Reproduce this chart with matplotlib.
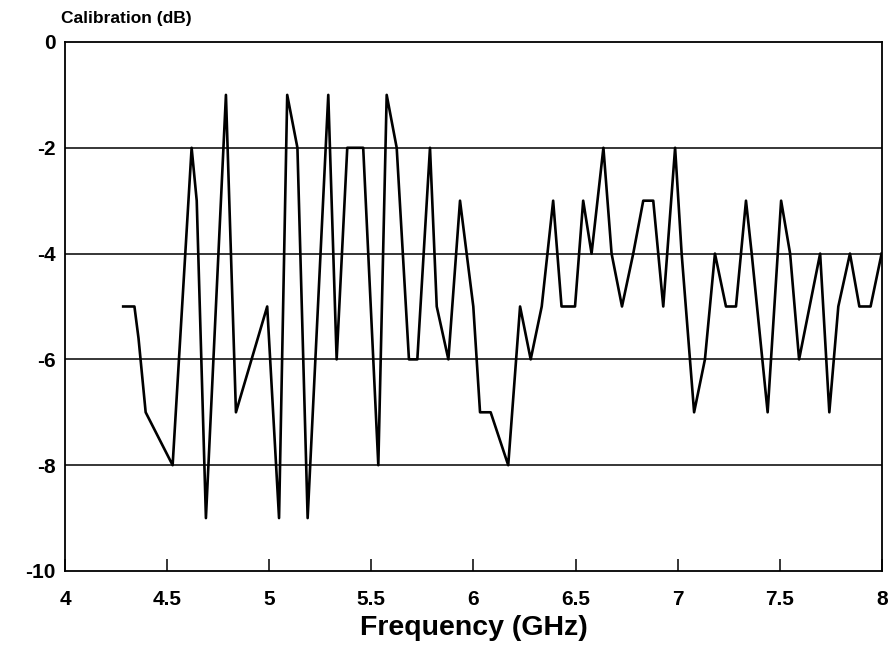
"""Calibration vs frequency plot, scanned-report style."""

import matplotlib

matplotlib.use("Agg")
import matplotlib.pyplot as plt

# Calibration readings (GHz, dB).
freq_ghz = [4.285, 4.34, 4.36, 4.395, 4.527, 4.62, 4.645, 4.69, 4.788, 4.837,
            4.99, 5.048, 5.088, 5.138, 5.188, 5.289, 5.33, 5.382, 5.46, 5.534,
            5.575, 5.624, 5.684, 5.725, 5.787, 5.82, 5.877, 5.934, 5.999, 6.032,
            6.084, 6.17, 6.228, 6.28, 6.334, 6.39, 6.431, 6.497, 6.537, 6.578,
            6.636, 6.676, 6.727, 6.782, 6.831, 6.88, 6.929, 6.987, 7.019, 7.08,
            7.133, 7.182, 7.236, 7.285, 7.334, 7.362, 7.44, 7.506, 7.55, 7.594,
            7.697, 7.742, 7.786, 7.843, 7.889, 7.944, 7.998]
cal_db = [-5, -5, -5.6, -7, -8, -2, -3, -9, -1, -7,
          -5, -9, -1, -2, -9, -1, -6, -2, -2, -8,
          -1, -2, -6, -6, -2, -5, -6, -3, -5, -7,
          -7, -8, -5, -6, -5, -3, -5, -5, -3, -4,
          -2, -4, -5, -4, -3, -3, -5, -2, -4, -7,
          -6, -4, -5, -5, -3, -4, -7, -3, -4, -6,
          -4, -7, -5, -4, -5, -5, -4]

x_ticks = [4, 4.5, 5, 5.5, 6, 6.5, 7, 7.5, 8]
x_labels = ["4", "4.5", "5", "5.5", "6", "6.5", "7", "7.5", "8"]
y_ticks = [0, -2, -4, -6, -8, -10]
y_labels = ["0", "-2", "-4", "-6", "-8", "-10"]

plt.rcParams["font.family"] = ["Liberation Sans", "DejaVu Sans"]

fig = plt.figure(figsize=(8.95, 6.53), dpi=100)
ax = fig.add_axes([0.0726, 0.1256, 0.9129, 0.8101])

# horizontal reference lines
for y in y_ticks[1:-1]:
    ax.axhline(y, color="black", lw=1.1, zorder=1)

ax.plot(freq_ghz, cal_db, color="black", lw=1.9, zorder=3)

ax.set_xlim(4, 8)
ax.set_ylim(-10, 0)
ax.set_xticks(x_ticks)
ax.set_xticklabels(x_labels, fontsize=15, fontweight="bold")
ax.set_yticks(y_ticks)
ax.set_yticklabels(y_labels, fontsize=15, fontweight="bold")
ax.tick_params(axis="x", direction="in", length=9, width=1.1, pad=14)
ax.tick_params(axis="y", length=0, pad=7)
for side in ax.spines.values():
    side.set_linewidth(1.3)

ax.set_xlabel("Frequency (GHz)", fontsize=20.5, fontweight="bold", labelpad=4)
fig.text(0.068, 0.972, "Calibration (dB)", fontsize=12.5, fontweight="bold",
         va="center", ha="left")

fig.savefig("out.png", dpi=100)
